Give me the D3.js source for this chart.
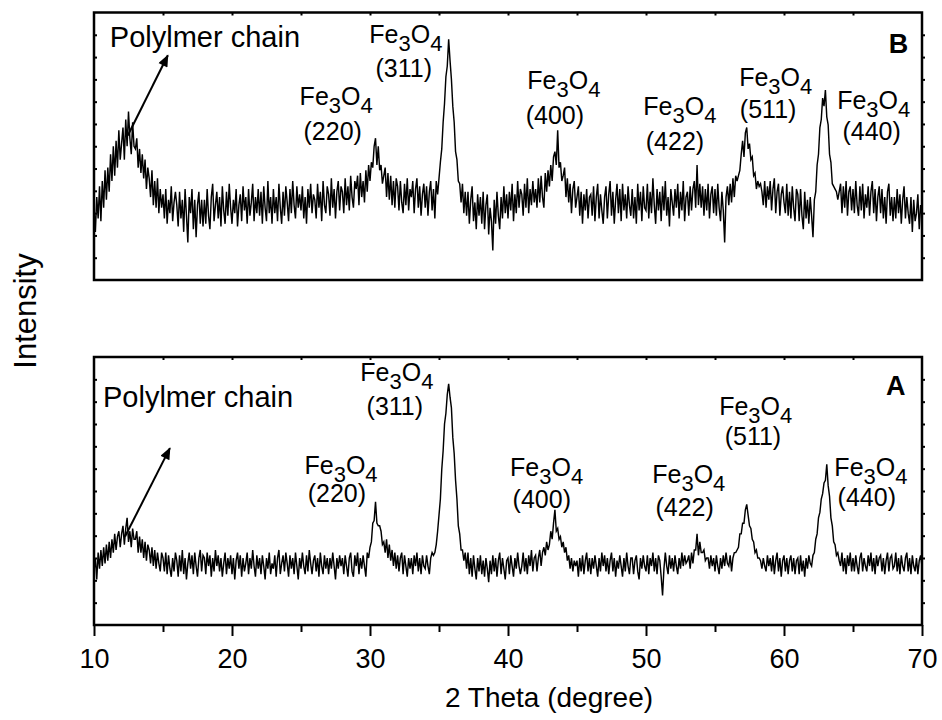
<!DOCTYPE html>
<meta charset="utf-8">
<script src="https://d3js.org/d3.v7.min.js"></script>
<style>
  body { margin: 0; background: #fff; }
  text { font-family: Arial, "Liberation Sans", sans-serif; fill: #000; }
</style>
<div id="xrd"></div>
<script>

// scan settings (2 theta, degree)
var thetaStart = 10, thetaStep = 0.1;
var xTicks = [10, 20, 30, 40, 50, 60, 70];
var xMinor = [15, 25, 35, 45, 55, 65];

// sample B intensity, one row = 1 degree (arb. units)
var intensityB = [
  27, 18, 31, 23, 35, 22, 37, 27, 41, 30,
  42, 33, 47, 37, 50, 39, 52, 42, 56, 45,
  51, 57, 45, 60, 50, 63, 53, 47, 59, 50,
  49, 53, 42, 49, 40, 47, 38, 45, 34, 42,
  38, 31, 41, 28, 37, 27, 38, 25, 34, 27,
  32, 23, 34, 21, 30, 25, 35, 22, 29, 33,
  28, 20, 33, 23, 30, 18, 34, 24, 14, 31,
  25, 34, 19, 30, 16, 28, 33, 21, 30, 20,
  30, 21, 34, 24, 19, 31, 36, 22, 28, 33,
  23, 31, 20, 35, 26, 21, 33, 24, 36, 27,
  21, 30, 25, 34, 20, 28, 32, 22, 35, 26,
  31, 21, 34, 24, 29, 36, 22, 31, 25, 34,
  24, 33, 21, 35, 27, 22, 37, 25, 31, 21,
  34, 25, 31, 22, 36, 27, 21, 33, 24, 35,
  29, 22, 34, 25, 37, 28, 23, 35, 27, 32,
  26, 35, 23, 31, 21, 34, 27, 36, 25, 32,
  30, 23, 36, 27, 33, 22, 37, 28, 25, 35,
  32, 24, 38, 27, 34, 23, 33, 37, 26, 35,
  33, 25, 38, 28, 35, 26, 39, 31, 27, 37,
  34, 39, 28, 40, 31, 37, 29, 41, 33, 43,
  37, 44, 42, 50, 53, 43, 50, 41, 43, 36,
  39, 42, 31, 40, 30, 39, 28, 37, 27, 38,
  35, 26, 37, 29, 25, 36, 28, 38, 26, 34,
  31, 37, 25, 34, 38, 27, 35, 24, 32, 36,
  27, 35, 24, 33, 37, 26, 34, 23, 37, 32,
  38, 44, 49, 59, 66, 76, 80, 90, 82, 75,
  65, 59, 48, 45, 37, 36, 29, 36, 25, 33,
  24, 33, 21, 30, 35, 22, 29, 19, 32, 24,
  31, 21, 33, 19, 28, 32, 17, 27, 22, 11,
  30, 21, 33, 24, 19, 31, 23, 35, 25, 32,
  23, 33, 26, 36, 22, 32, 25, 37, 27, 34,
  32, 24, 36, 27, 38, 25, 34, 28, 37, 29,
  34, 27, 38, 29, 39, 31, 27, 40, 33, 41,
  35, 43, 37, 46, 48, 43, 56, 42, 44, 37,
  39, 42, 31, 38, 29, 36, 25, 34, 37, 27,
  31, 35, 24, 33, 21, 32, 26, 34, 23, 31,
  32, 24, 35, 22, 31, 36, 23, 32, 26, 21,
  31, 35, 23, 32, 37, 24, 33, 21, 30, 36,
  25, 34, 22, 36, 26, 32, 23, 35, 28, 24,
  34, 23, 31, 21, 36, 26, 33, 22, 35, 27,
  26, 36, 23, 33, 25, 38, 28, 21, 34, 26,
  33, 22, 35, 26, 37, 24, 31, 20, 34, 29,
  24, 34, 27, 36, 23, 33, 26, 37, 22, 31,
  33, 24, 35, 26, 34, 37, 27, 43, 28, 36,
  27, 35, 24, 34, 26, 36, 23, 32, 35, 25,
  34, 24, 36, 27, 22, 33, 26, 14, 31, 35,
  28, 36, 29, 38, 31, 39, 37, 39, 41, 47,
  52, 46, 55, 57, 49, 51, 45, 46, 39, 40,
  34, 37, 35, 36, 33, 28, 37, 27, 35, 30,
  37, 26, 34, 38, 25, 33, 36, 24, 32, 35,
  29, 25, 36, 24, 33, 23, 35, 27, 22, 34,
  32, 22, 34, 24, 19, 33, 23, 30, 21, 31,
  24, 16, 30, 33, 43, 47, 57, 60, 68, 65,
  71, 61, 58, 47, 44, 36, 35, 34, 33, 30,
  33, 36, 25, 35, 27, 37, 24, 33, 35, 26,
  34, 25, 37, 28, 24, 35, 26, 36, 23, 32,
  27, 35, 24, 33, 37, 25, 34, 22, 31, 35,
  25, 34, 23, 31, 21, 33, 36, 24, 31, 22,
  31, 23, 34, 25, 32, 21, 30, 35, 23, 31,
  25, 21, 31, 18, 30, 22, 25, 32, 19, 28,
  24
];

// sample A intensity
var intensityA = [
  20, 25, 17, 27, 21, 28, 22, 29, 23, 30,
  24, 31, 25, 32, 27, 34, 28, 33, 35, 29,
  34, 37, 30, 36, 40, 31, 35, 29, 36, 32,
  32, 35, 27, 33, 27, 32, 25, 31, 24, 30,
  28, 23, 29, 22, 28, 21, 27, 23, 20, 27,
  25, 20, 27, 19, 26, 21, 18, 25, 20, 27,
  24, 18, 26, 20, 28, 19, 25, 17, 23, 27,
  21, 26, 19, 27, 22, 18, 25, 28, 20, 26,
  25, 19, 27, 22, 26, 18, 25, 20, 28, 22,
  26, 20, 25, 18, 23, 27, 19, 25, 21, 26,
  19, 25, 17, 24, 27, 21, 26, 18, 25, 20,
  23, 27, 19, 25, 21, 28, 22, 18, 26, 21,
  25, 19, 26, 22, 17, 25, 21, 27, 19, 23,
  21, 26, 18, 25, 28, 19, 23, 26, 20, 27,
  23, 18, 26, 21, 25, 19, 27, 22, 17, 25,
  21, 27, 22, 19, 26, 20, 28, 23, 19, 24,
  26, 20, 25, 18, 27, 22, 19, 26, 21, 25,
  19, 25, 21, 27, 22, 17, 25, 21, 26, 22,
  25, 19, 26, 22, 18, 25, 27, 20, 18, 26,
  22, 27, 19, 25, 21, 26, 22, 18, 27, 25,
  29, 31, 38, 39, 46, 38, 37, 37, 35, 30,
  31, 27, 32, 25, 30, 24, 28, 22, 27, 21,
  26, 20, 25, 27, 19, 26, 22, 18, 25, 21,
  25, 19, 26, 22, 27, 20, 25, 19, 26, 22,
  21, 26, 22, 19, 25, 27, 26, 27, 30, 35,
  41, 47, 58, 65, 75, 79, 86, 90, 85, 81,
  70, 64, 54, 47, 37, 34, 28, 28, 24, 27,
  21, 27, 19, 25, 18, 26, 21, 17, 25, 20,
  26, 19, 24, 18, 25, 21, 16, 24, 19, 26,
  20, 25, 18, 24, 27, 19, 25, 21, 17, 24,
  25, 19, 26, 22, 18, 25, 21, 27, 22, 19,
  22, 27, 20, 25, 19, 26, 22, 28, 20, 25,
  26, 20, 25, 28, 22, 27, 29, 26, 31, 28,
  30, 35, 32, 38, 43, 35, 36, 32, 33, 29,
  31, 27, 29, 24, 26, 21, 25, 20, 24, 22,
  24, 18, 25, 20, 26, 19, 24, 27, 20, 25,
  19, 25, 21, 26, 22, 18, 25, 20, 27, 22,
  26, 20, 25, 19, 24, 27, 20, 25, 18, 24,
  21, 26, 22, 18, 25, 20, 27, 22, 19, 25,
  25, 19, 24, 26, 20, 17, 25, 21, 26, 22,
  20, 26, 19, 25, 22, 27, 20, 25, 19, 26,
  24, 18, 11, 21, 27, 22, 19, 26, 21, 25,
  20, 26, 22, 19, 25, 21, 27, 22, 26, 23,
  24, 26, 21, 27, 23, 28, 28, 34, 26, 31,
  27, 27, 28, 24, 25, 25, 21, 26, 22, 25,
  20, 26, 22, 19, 25, 21, 26, 22, 27, 23,
  22, 26, 20, 25, 27, 27, 28, 29, 34, 34,
  38, 38, 43, 45, 41, 37, 36, 32, 31, 27,
  28, 25, 25, 24, 21, 25, 22, 20, 26, 22,
  25, 20, 26, 19, 24, 27, 20, 25, 18, 24,
  26, 20, 25, 19, 24, 26, 20, 25, 19, 24,
  25, 19, 26, 20, 24, 18, 25, 21, 26, 23,
  22, 26, 27, 32, 34, 40, 42, 47, 49, 53,
  54, 60, 52, 48, 40, 37, 31, 30, 26, 27,
  24, 22, 27, 20, 25, 19, 26, 22, 27, 20,
  25, 20, 26, 22, 19, 25, 27, 20, 25, 22,
  20, 26, 22, 27, 20, 25, 19, 26, 22, 25,
  26, 20, 25, 19, 24, 27, 20, 25, 26, 21,
  22, 27, 20, 25, 19, 26, 22, 20, 25, 27,
  20, 25, 19, 26, 22, 20, 25, 19, 24, 26,
  22
];

// reflection labels: [hkl, x of formula, y of formula, x of hkl, y of hkl] in data units
var labelsB = [
  ["(220)", 27.55, 65.5, 27.3, 52.5],
  ["(311)", 32.6, 88.5, 32.45, 76],
  ["(400)", 44.05, 71.5, 43.4, 58.5],
  ["(422)", 52.45, 61.5, 52.1, 48.5],
  ["(511)", 59.4, 72.5, 58.85, 60.5],
  ["(440)", 66.5, 64, 66.35, 52.5]
];
var labelsA = [
  ["(220)", 27.9, 56.5, 27.6, 46],
  ["(311)", 31.95, 91, 31.8, 78.5],
  ["(400)", 42.8, 55.5, 42.45, 43.5],
  ["(422)", 53.1, 53, 52.8, 40.5],
  ["(511)", 57.95, 78.5, 57.75, 67],
  ["(440)", 66.3, 55.5, 66, 44.5]
];

var width = 942, height = 720;
var left = 94, right = 922;
var panels = [
  {name: "B", top: 12.5, bottom: 280, data: intensityB, labels: labelsB,
   chain: [11.15, 87], arrow: [12.45, 54, 15.35, 84], letter: [69, 85]},
  {name: "A", top: 357, bottom: 625, data: intensityA, labels: labelsA,
   chain: [10.65, 81.3], arrow: [12.25, 33, 15.5, 66], letter: [68.8, 86]}
];

var svg = d3.select("#xrd").append("svg")
  .attr("width", width)
  .attr("height", height);

svg.append("defs").append("marker")
  .attr("id", "head")
  .attr("viewBox", "0 0 12 10")
  .attr("refX", 11).attr("refY", 5)
  .attr("markerWidth", 7).attr("markerHeight", 5)
  .attr("markerUnits", "strokeWidth")
  .attr("orient", "auto")
  .append("path")
  .attr("d", "M0,0 L12,5 L0,10 z")
  .attr("fill", "#000");

var x = d3.scaleLinear().domain([10, 70]).range([left, right]);

panels.forEach(function(p, k) {
  var y = d3.scaleLinear().domain([0, 100]).range([p.bottom, p.top]);
  var g = svg.append("g");

  g.append("clipPath").attr("id", "clip" + k)
    .append("rect")
    .attr("x", left).attr("y", p.top)
    .attr("width", right - left).attr("height", p.bottom - p.top);

  var line = d3.line()
    .x(function(d, i) { return x(thetaStart + i * thetaStep); })
    .y(function(d) { return y(d); });

  g.append("path")
    .datum(p.data)
    .attr("clip-path", "url(#clip" + k + ")")
    .attr("d", line)
    .attr("fill", "none")
    .attr("stroke", "#000")
    .attr("stroke-width", 1.45)
    .attr("stroke-linejoin", "miter");

  // small ticks round the frame
  var yTicks = d3.range(1, 12).map(function(i) { return i * 100 / 12; });
  var xSmall = d3.range(15, 70, 5);

  g.append("g").attr("transform", "translate(" + left + ",0)")
    .call(d3.axisLeft(y).tickValues(yTicks).tickSize(-3).tickFormat(""));
  g.append("g").attr("transform", "translate(" + right + ",0)")
    .call(d3.axisRight(y).tickValues(yTicks).tickSize(3).tickFormat(""));
  g.append("g").attr("transform", "translate(0," + p.top + ")")
    .call(d3.axisTop(x).tickValues(xSmall).tickSize(-3).tickFormat(""));

  if (p.name == "A") {
    var ax = g.append("g").attr("transform", "translate(0," + p.bottom + ")")
      .call(d3.axisBottom(x).tickValues(xTicks).tickSize(11).tickFormat(d3.format("d")));
    ax.selectAll("text")
      .attr("y", 24)
      .style("font-size", "27px");
    g.append("g").attr("transform", "translate(0," + p.bottom + ")")
      .call(d3.axisBottom(x).tickValues(xMinor).tickSize(7).tickFormat(""));
  }

  g.selectAll(".domain").remove();
  g.selectAll(".tick line").attr("stroke", "#000").attr("stroke-width", 2);

  g.append("rect")
    .attr("x", left).attr("y", p.top)
    .attr("width", right - left).attr("height", p.bottom - p.top)
    .attr("fill", "none")
    .attr("stroke", "#000")
    .attr("stroke-width", 2.5);

  // annotations
  g.append("text")
    .attr("x", x(p.chain[0])).attr("y", y(p.chain[1]))
    .style("font-size", "29px")
    .text("Polylmer chain");

  g.append("line")
    .attr("x1", x(p.arrow[0])).attr("y1", y(p.arrow[1]))
    .attr("x2", x(p.arrow[2])).attr("y2", y(p.arrow[3]))
    .attr("stroke", "#000")
    .attr("stroke-width", 2)
    .attr("marker-end", "url(#head)");

  g.append("text")
    .attr("x", x(p.letter[0])).attr("y", y(p.letter[1]))
    .attr("text-anchor", "end")
    .style("font-size", "27px")
    .style("font-weight", "bold")
    .text(p.name);

  p.labels.forEach(function(l) {
    var t = g.append("text")
      .attr("x", x(l[1])).attr("y", y(l[2]))
      .attr("text-anchor", "middle")
      .style("font-size", "25px");
    t.append("tspan").text("Fe");
    t.append("tspan").attr("dy", 8).style("font-size", "22px").text("3");
    t.append("tspan").attr("dy", -8).text("O");
    t.append("tspan").attr("dy", 8).style("font-size", "22px").text("4");

    g.append("text")
      .attr("x", x(l[3])).attr("y", y(l[4]))
      .attr("text-anchor", "middle")
      .style("font-size", "25px")
      .text(l[0]);
  });
});

svg.append("text")
  .attr("transform", "translate(36,311) rotate(-90)")
  .attr("text-anchor", "middle")
  .style("font-size", "31px")
  .text("Intensity");

svg.append("text")
  .attr("x", 549).attr("y", 707)
  .attr("text-anchor", "middle")
  .style("font-size", "28px")
  .text("2 Theta (degree)");

</script>
